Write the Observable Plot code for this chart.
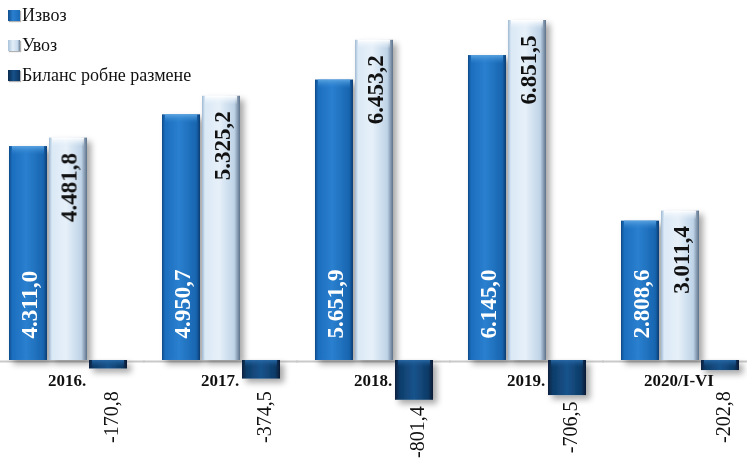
<!DOCTYPE html>
<html>
<head>
<meta charset="utf-8">
<script src="https://cdn.jsdelivr.net/npm/d3@7"></script>
<script src="https://cdn.jsdelivr.net/npm/@observablehq/plot@0.6"></script>
<style>
  html, body { margin: 0; padding: 0; background: #fff; }
  #wrap { position: relative; width: 747px; height: 464px; }
  #legend { position: absolute; left: 8px; top: 0px; font-family: "Liberation Serif", "Times New Roman", serif; font-size: 18px; color: #111; }
  .item { display: flex; align-items: center; height: 30px; }
  .sw { width: 12px; height: 11px; margin-right: 2px; box-shadow: 1px 1px 1px rgba(0,0,0,0.3); }
</style>
</head>
<body>
<div id="wrap"></div>
<script>
const years = ["2016.", "2017.", "2018.", "2019.", "2020/I-VI"];
const seriesNames = ["Извоз", "Увоз", "Биланс робне размене"];
const izvoz = [4311.0, 4950.7, 5651.9, 6145.0, 2808.6];
const uvoz = [4481.8, 5325.2, 6453.2, 6851.5, 3011.4];
const bilans = [-170.8, -374.5, -801.4, -706.5, -202.8];

const swatchCss = [
  "linear-gradient(90deg,#0f4f8f 0%,#2a7fcf 40%,#1a6bb8 100%)",
  "linear-gradient(90deg,#a9c2da 0%,#e3eef8 40%,#c5d9ec 80%,#6f8399 100%)",
  "linear-gradient(90deg,#0a2a4d 0%,#16518a 45%,#0c3560 100%)"
];

const loc = d3.formatLocale({decimal: ",", thousands: ".", grouping: [3], currency: ["", ""], minus: "-"});
const fmt = loc.format(",.1f");

const rows = [];
years.forEach((y, i) => {
  rows.push({year: y, series: seriesNames[0], value: izvoz[i]});
  rows.push({year: y, series: seriesNames[1], value: uvoz[i]});
  rows.push({year: y, series: seriesNames[2], value: bilans[i]});
});
const rowsOf = s => rows.filter(d => d.series === s);

const serif = "Liberation Serif, Times New Roman, serif";

const chart = Plot.plot({
  width: 747,
  height: 464,
  marginLeft: 0,
  marginRight: 1,
  marginTop: 20,
  marginBottom: 0,
  style: {background: "transparent", fontFamily: serif},
  fx: {domain: years, paddingInner: 0.224, paddingOuter: 0.0456, axis: null, label: null},
  x: {domain: seriesNames, paddingInner: 0.06, paddingOuter: 0, axis: null},
  y: {domain: [-2096, 6851.5], axis: null},
  marks: [
    Plot.ruleY([0], {stroke: "#c9c9c9", strokeWidth: 2, dy: 1, insetLeft: -18, insetRight: -18}),
    Plot.barY(rowsOf(seriesNames[0]), {fx: "year", x: "series", y: "value", fill: "url(#gIzvoz)"}),
    Plot.barY(rowsOf(seriesNames[1]), {fx: "year", x: "series", y: "value", fill: "url(#gUvoz)"}),
    Plot.barY(rowsOf(seriesNames[2]), {fx: "year", x: "series", y: "value", fill: "url(#gBilans)"}),
    // top bevel caps
    Plot.barY(rowsOf(seriesNames[0]), {fx: "year", x: "series", y1: "value", y2: "value", insetBottom: -9, insetLeft: 3, insetRight: 3, fill: "url(#capIzvoz)"}),
    Plot.barY(rowsOf(seriesNames[1]), {fx: "year", x: "series", y1: "value", y2: "value", insetBottom: -9, insetLeft: 3, insetRight: 3, fill: "url(#capUvoz)"}),
    Plot.barY(rowsOf(seriesNames[2]), {fx: "year", x: "series", y1: 0, y2: 0, insetBottom: -7, insetLeft: 3, insetRight: 3, fill: "url(#capBilans)"}),
    Plot.text(rowsOf(seriesNames[0]), {
      fx: "year", x: "series", y: 0, text: d => fmt(d.value), rotate: -90,
      textAnchor: "start", dy: -22, dx: 1, fill: "white", fontWeight: "bold", fontSize: 23, fontFamily: serif
    }),
    Plot.text(rowsOf(seriesNames[1]), {
      fx: "year", x: "series", y: "value", text: d => fmt(d.value), rotate: -90,
      textAnchor: "end", dy: 15, dx: 1, fill: "#111", fontWeight: "bold", fontSize: 23, fontFamily: serif
    }),
    Plot.text(rowsOf(seriesNames[2]), {
      fx: "year", x: "series", y: d => Math.min(d.value, -500), text: d => fmt(d.value), rotate: -90,
      textAnchor: "end", dy: 6, dx: 3, fill: "#111", fontSize: 20, fontFamily: serif
    }),
    Plot.text(years, {
      fx: d => d, y: 0, text: d => d, dy: 20, dx: -1, fill: "#111", fontWeight: "bold", fontSize: 17, fontFamily: serif
    })
  ]
});

// gradients & shadow
const ns = "http://www.w3.org/2000/svg";
const defs = document.createElementNS(ns, "defs");
const grads = {
  gIzvoz: [[0, "#0d4a88"], [0.08, "#1c6dbd"], [0.45, "#2a80cf"], [0.9, "#1865b0"], [1, "#0b3e74"]],
  gUvoz: [[0, "#9fb9d2"], [0.08, "#dbe9f6"], [0.45, "#e6f0f9"], [0.85, "#bed3e7"], [1, "#5d7289"]],
  gBilans: [[0, "#07213f"], [0.12, "#0f3c69"], [0.5, "#16538c"], [0.88, "#0e3a66"], [1, "#061a32"]]
};
const vgrads = {
  capIzvoz: [[0, "#5aa3e0", 1], [1, "#2a80cf", 0]],
  capUvoz: [[0, "#ffffff", 1], [1, "#e6f0f9", 0]],
  capBilans: [[0, "#2a6aa8", 0.9], [1, "#16538c", 0]]
};
function addGrad(id, stops, vertical) {
  const g = document.createElementNS(ns, "linearGradient");
  g.setAttribute("id", id);
  g.setAttribute("x1", "0"); g.setAttribute("y1", "0");
  g.setAttribute("x2", vertical ? "0" : "1"); g.setAttribute("y2", vertical ? "1" : "0");
  for (const [o, c, op] of stops) {
    const s = document.createElementNS(ns, "stop");
    s.setAttribute("offset", o);
    s.setAttribute("stop-color", c);
    if (op !== undefined) s.setAttribute("stop-opacity", op);
    g.appendChild(s);
  }
  defs.appendChild(g);
}
for (const [id, stops] of Object.entries(grads)) addGrad(id, stops, false);
for (const [id, stops] of Object.entries(vgrads)) addGrad(id, stops, true);

const f = document.createElementNS(ns, "filter");
f.setAttribute("id", "shadow");
f.setAttribute("x", "-20%"); f.setAttribute("y", "-20%"); f.setAttribute("width", "150%"); f.setAttribute("height", "150%");
const ds = document.createElementNS(ns, "feDropShadow");
ds.setAttribute("dx", "4"); ds.setAttribute("dy", "4"); ds.setAttribute("stdDeviation", "3");
ds.setAttribute("flood-color", "#000"); ds.setAttribute("flood-opacity", "0.35");
f.appendChild(ds);
defs.appendChild(f);
chart.insertBefore(defs, chart.firstChild);
const barGroups = chart.querySelectorAll('g[aria-label="bar"]');
barGroups.forEach((g, i) => { if (i < 3) g.setAttribute("filter", "url(#shadow)"); });

const wrap = document.getElementById("wrap");
wrap.appendChild(chart);

const legend = document.createElement("div");
legend.id = "legend";
seriesNames.forEach((name, i) => {
  const it = document.createElement("div");
  it.className = "item";
  const sw = document.createElement("span");
  sw.className = "sw";
  sw.style.background = swatchCss[i];
  const tx = document.createElement("span");
  tx.textContent = name;
  it.appendChild(sw);
  it.appendChild(tx);
  legend.appendChild(it);
});
wrap.appendChild(legend);
</script>
</body>
</html>
